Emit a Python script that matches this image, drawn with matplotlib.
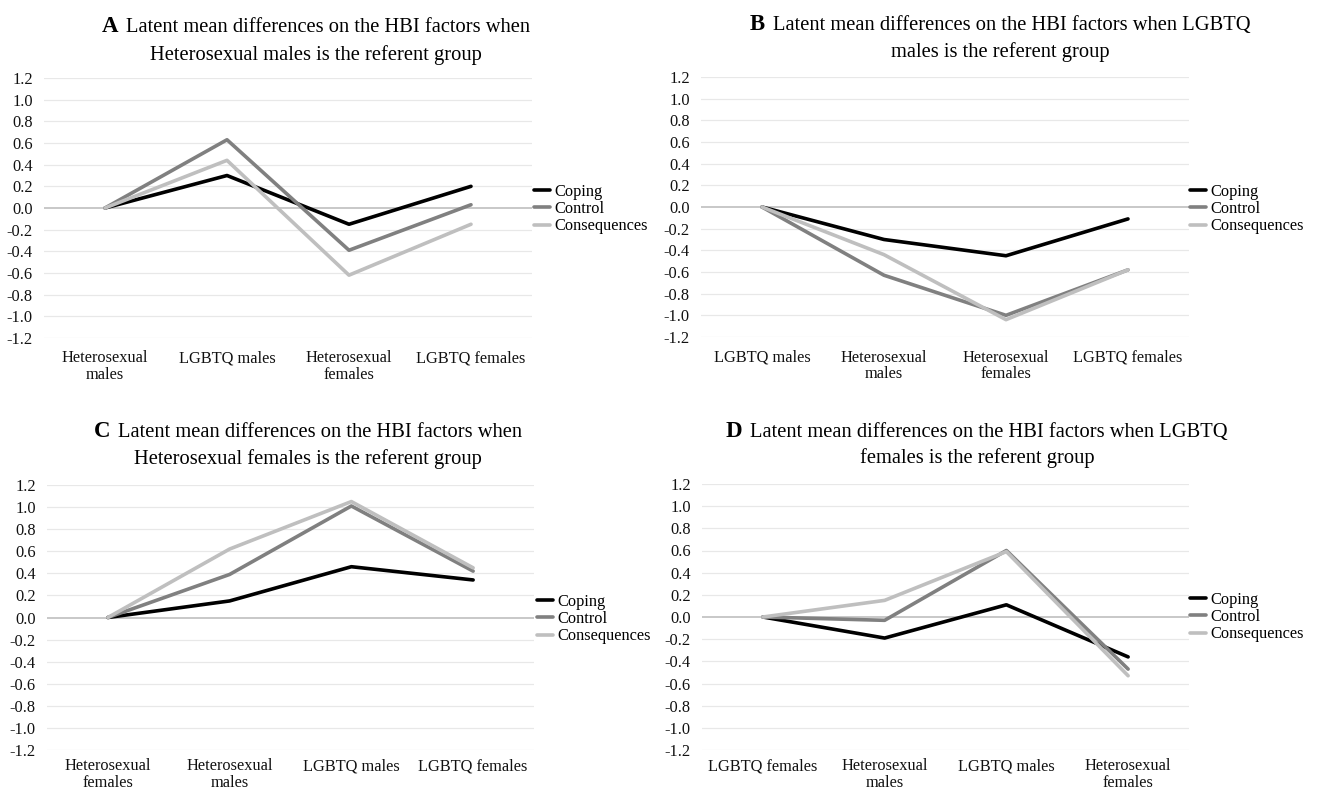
import matplotlib
matplotlib.use('Agg')
import matplotlib.pyplot as plt

plt.rcParams['font.family'] = ['Liberation Serif', 'DejaVu Serif']

# ---- data ----
series_names = ['Coping', 'Control', 'Consequences']

cats_a = ['Heterosexual\nmales', 'LGBTQ males', 'Heterosexual\nfemales', 'LGBTQ females']
coping_a = [0.0, 0.30, -0.15, 0.20]
control_a = [0.0, 0.63, -0.39, 0.03]
conseq_a = [0.0, 0.44, -0.62, -0.15]

cats_b = ['LGBTQ males', 'Heterosexual\nmales', 'Heterosexual\nfemales', 'LGBTQ females']
coping_b = [0.0, -0.30, -0.45, -0.11]
control_b = [0.0, -0.63, -1.00, -0.58]
conseq_b = [0.0, -0.44, -1.04, -0.58]

cats_c = ['Heterosexual\nfemales', 'Heterosexual\nmales', 'LGBTQ males', 'LGBTQ females']
coping_c = [0.0, 0.15, 0.46, 0.34]
control_c = [0.0, 0.39, 1.01, 0.42]
conseq_c = [0.0, 0.62, 1.05, 0.45]

cats_d = ['LGBTQ females', 'Heterosexual\nmales', 'LGBTQ males', 'Heterosexual\nfemales']
coping_d = [0.0, -0.19, 0.11, -0.36]
control_d = [0.0, -0.03, 0.60, -0.47]
conseq_d = [0.0, 0.15, 0.59, -0.53]

yticks = [-1.2, -1.0, -0.8, -0.6, -0.4, -0.2, 0.0, 0.2, 0.4, 0.6, 0.8, 1.0, 1.2]

W, H = 1320, 795
colors = ['#000000', '#808080', '#bfbfbf']

panels = [
    # letter, title line 1, title line 2, categories, series, axes rect (px), title centre x, baselines, legend anchor
    ('A', 'Latent mean differences on the HBI factors when', 'Heterosexual males is the referent group',
     cats_a, [coping_a, control_a, conseq_a], (44, 78, 532, 338), 316, (32, 60), (534, 209)),
    ('B', 'Latent mean differences on the HBI factors when LGBTQ', 'males is the referent group',
     cats_b, [coping_b, control_b, conseq_b], (701, 77, 1189, 337), 1000, (30, 57), (1190, 209)),
    ('C', 'Latent mean differences on the HBI factors when', 'Heterosexual females is the referent group',
     cats_c, [coping_c, control_c, conseq_c], (47, 485, 534, 750), 308, (437, 464), (537, 619)),
    ('D', 'Latent mean differences on the HBI factors when LGBTQ', 'females is the referent group',
     cats_d, [coping_d, control_d, conseq_d], (702, 484, 1189, 750), 977, (437, 463), (1190, 617)),
]

fig = plt.figure(figsize=(W / 100, H / 100), dpi=100)
renderer = fig.canvas.get_renderer()

for letter, line1, line2, cats, series, rect, cx, (b1, b2), (lx, ly) in panels:
    l, t, r, b = rect
    ax = fig.add_axes([l / W, 1 - b / H, (r - l) / W, (b - t) / H])
    x = list(range(len(cats)))

    for ytk in yticks:
        if ytk != 0.0:
            ax.axhline(ytk, color='#e8e8e8', linewidth=0.9, zorder=0)
    ax.axhline(0, color='#c4c4c4', linewidth=1.3, zorder=1)

    for name, vals, col in zip(series_names, series, colors):
        ax.plot(x, vals, color=col, linewidth=2.6, label=name,
                solid_joinstyle='round', solid_capstyle='round', zorder=3)

    ax.set_xlim(-0.5, len(cats) - 0.5)
    ax.set_ylim(-1.2, 1.2)
    ax.set_yticks(yticks)
    ax.set_yticklabels([f'{v:.1f}' for v in yticks])
    ax.set_xticks(x)
    ax.set_xticklabels(cats, linespacing=1.05)
    ax.tick_params(axis='both', length=0, labelsize=11.8, colors='#111111')
    ax.tick_params(axis='y', pad=8)
    ax.tick_params(axis='x', pad=6 if t > 400 else 9)
    for s in ax.spines.values():
        s.set_visible(False)

    ax.legend(loc='center left', bbox_to_anchor=(lx / W, 1 - ly / H),
              bbox_transform=fig.transFigure, frameon=False, fontsize=11.8,
              handlelength=0.95, handletextpad=0.3, labelspacing=0.08,
              borderpad=0, borderaxespad=0)

    # title: bold panel letter + two lines, centred as a block
    lt = fig.text(0, 1 - b1 / H, letter, fontsize=16.5, fontweight='bold', va='baseline')
    bt = fig.text(0, 1 - b1 / H, line1, fontsize=14.8, va='baseline')
    wl = lt.get_window_extent(renderer).width
    wb = bt.get_window_extent(renderer).width
    gap = 8
    x0 = cx - (wl + gap + wb) / 2
    lt.set_x(x0 / W)
    bt.set_x((x0 + wl + gap) / W)
    fig.text(cx / W, 1 - b2 / H, line2, fontsize=14.8, ha='center', va='baseline')

fig.savefig('out.png', dpi=100)
